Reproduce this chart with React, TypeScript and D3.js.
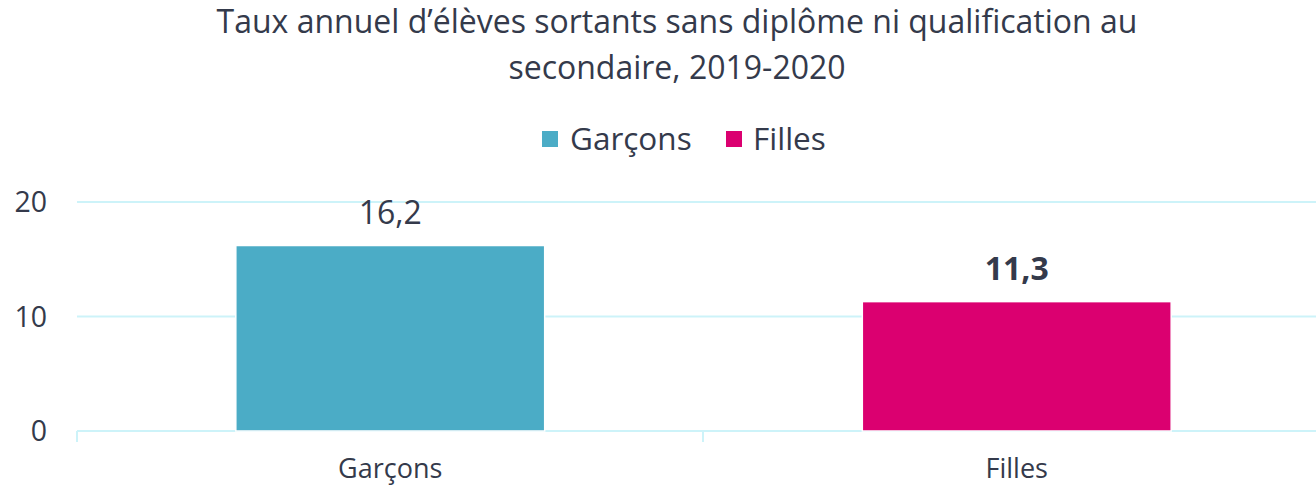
import React from "react";
import * as d3 from "d3";

const categories = ["Garçons", "Filles"];
const values = [16.2, 11.3];
const labels = ["16,2", "11,3"];
const boldLabel = [false, true];
const colors = ["#4BACC6", "#DB0070"];
const yTicks = [0, 10, 20];
const titleLines = ["Taux annuel d’élèves sortants sans diplôme ni qualification au", "secondaire, 2019-2020"];

const W = 1316, H = 487;
const FONT = "'Open Sans', sans-serif";
const TXT = "#343a4b";
const GRID = "#cdf3f9";

export default function App() {
  const x = d3.scaleBand().domain(categories).range([77, 1330]).paddingInner(0.507).paddingOuter(0.2535);
  const y = d3.scaleLinear().domain([0, 20]).range([431, 202]);
  return (
    <svg width={W} height={H} style={{ position: "absolute", left: 0, top: 0, background: "#fff" }} fontFamily={FONT}>
      {titleLines.map((t, i) => (
        <text key={i} x={677} y={33 + i * 46} textAnchor="middle" fontSize={32} fill={TXT}>{t}</text>
      ))}
      {/* legend */}
      <rect x={542} y={131} width={16} height={16} fill={colors[0]} />
      <text x={570} y={150} fontSize={31.5} fill={TXT}>{categories[0]}</text>
      <rect x={726} y={131} width={16} height={16} fill={colors[1]} />
      <text x={753} y={150} fontSize={31.5} fill={TXT}>{categories[1]}</text>
      {yTicks.map((t) => (
        <g key={t}>
          <line x1={77} x2={W} y1={y(t)} y2={y(t)} stroke={GRID} strokeWidth={2} />
          <text x={47} y={y(t) + 10} textAnchor="end" fontSize={28.5} fill={TXT}>{t}</text>
        </g>
      ))}
      {[77, 703].map((tx) => (
        <line key={tx} x1={tx} x2={tx} y1={431} y2={442} stroke={GRID} strokeWidth={2} />
      ))}
      {categories.map((c, i) => (
        <g key={c}>
          <rect x={x(c)!} y={y(values[i])} width={x.bandwidth()} height={y(0) - y(values[i])} fill={colors[i]} stroke="#fff" strokeWidth={1.5} />
          <text x={x(c)! + x.bandwidth() / 2} y={y(values[i]) - 22} textAnchor="middle" fontSize={32} fontWeight={boldLabel[i] ? "bold" : "normal"} fill={TXT}>{labels[i]}</text>
          <text x={x(c)! + x.bandwidth() / 2} y={478} textAnchor="middle" fontSize={27} fill={TXT}>{c}</text>
        </g>
      ))}
    </svg>
  );
}
